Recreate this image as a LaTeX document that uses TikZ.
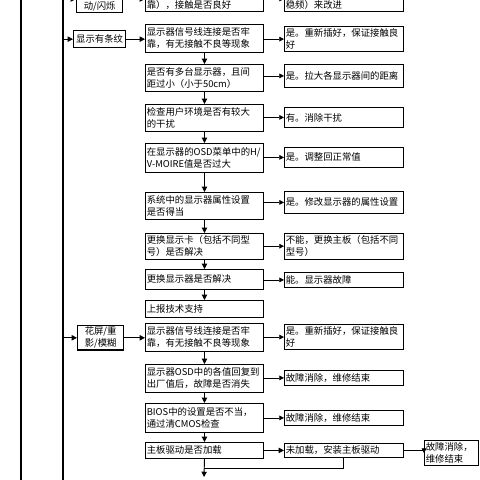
\documentclass[tikz,border=0pt]{standalone}
\usepackage{fontspec}
\usepackage{tikz}
\usetikzlibrary{arrows.meta}
\newfontfamily\cjk{Noto Sans CJK SC}
\newcommand{\xQ}{145}
\newcommand{\xA}{284}
\newcommand{\xM}{204}
\tikzset{
    qbox/.style={draw, line width=0.7pt, anchor=north west, inner xsep=1.2pt, inner ysep=2pt,
        text width=3.46cm, align=left, font=\cjk\fontsize{8}{10.2}\selectfont},
    abox/.style={qbox, text width=3.48cm},
    cbox/.style={draw, line width=1.1pt, anchor=north west, align=center, inner sep=1.2pt,
        font=\cjk\fontsize{8}{10.2}\selectfont},
    flow/.style={line width=0.8pt, -{Triangle[length=4.5pt,width=4.5pt]}},
    yes/.style={line width=0.5pt, -{Triangle[length=4pt,width=4pt]}},
    bus/.style={line width=1.6pt}
}
\begin{document}
\begin{tikzpicture}[x=0.03cm,y=-0.03cm]
    \useasboundingbox (0,0) rectangle (480,480);
    % === === === Buses
    \coordinate (busLt) at (21,-10);
    \coordinate (busLb) at (21,490);
    \coordinate (busRt) at (63,-10);
    \coordinate (busRb) at (63,490);
    \draw[bus] (busLt) -- (busLb);
    \draw[bus] (busRt) -- (busRb);
    % === === === Row cut at the top
    \coordinate (row0) at (0,-1);
    \node[cbox, anchor=south west, minimum width=1.38cm, text height=20pt] (c0) at (76,13) {动/闪烁};
    \node[qbox, anchor=south west, text height=20pt] (m0) at (\xQ,12) {靠），接触是否良好};
    \node[abox, anchor=south west, text height=20pt] (a0) at (\xA,12) {稳频）来改进};
    \draw[flow] (row0 -| busRt) -- (row0 -| c0.west);
    \draw[flow] (row0 -| c0.east) -- (row0 -| m0.west);
    \draw[yes] (row0 -| m0.east) -- (row0 -| a0.west);
    % === === === Stripes
    \node[cbox, minimum width=1.56cm, minimum height=0.51cm] (c1) at (73,30) {显示有条纹};
    % --- --- --- questions
    \node[qbox, minimum height=0.84cm] (m1) at (\xQ,24) {显示器信号线连接是否牢\\靠，有无接触不良等现象};
    \node[qbox, minimum height=0.81cm] (m2) at (\xQ,64) {是否有多台显示器，且间\\距过小（小于50cm）};
    \node[qbox, minimum height=0.81cm] (m3) at (\xQ,104) {检查用户环境是否有较大\\的干扰};
    \node[qbox, minimum height=0.87cm] (m4) at (\xQ,143) {在显示器的OSD菜单中的H/\\V-MOIRE值是否过大};
    \node[qbox, minimum height=0.81cm] (m5) at (\xQ,192) {系统中的显示器属性设置\\是否得当};
    \node[qbox, minimum height=0.75cm] (m6) at (\xQ,233) {更换显示卡（包括不同型\\号）是否解决};
    \node[qbox, minimum height=0.6cm] (m7) at (\xQ,269) {更换显示器是否解决};
    \node[qbox, minimum height=0.51cm] (m8) at (\xQ,300) {上报技术支持};
    % --- --- --- answers
    \node[abox, minimum height=0.72cm] (a1) at (\xA,26) {是。重新插好，保证接触良\\好};
    \node[abox, minimum height=0.69cm] (a2) at (\xA,64) {是。拉大各显示器间的距离};
    \node[abox, minimum height=0.6cm] (a3) at (\xA,107) {有。消除干扰};
    \node[abox, minimum height=0.6cm] (a4) at (\xA,147) {是。调整回正常值};
    \node[abox, minimum height=0.66cm] (a5) at (\xA,191) {是。修改显示器的属性设置};
    \node[abox, minimum height=0.72cm] (a6) at (\xA,233) {不能，更换主板（包括不同\\型号）};
    \node[abox, minimum height=0.45cm] (a7) at (\xA,272) {能。显示器故障};
    % --- --- --- arrows
    \draw[flow] (c1.west -| busRt) -- (c1.west);
    \draw[flow] (c1.east) -- (c1.east -| m1.west);
    \foreach \i/\j in {1/2,2/3,3/4,4/5,5/6,6/7,7/8} {
        \draw[flow] (m\i.south) -- (m\j.north);
    }
    \foreach \i in {1,...,7} {
        \draw[yes] (a\i.west -| m\i.east) -- (a\i.west);
    }
    % === === === Blurred screen
    \node[cbox, minimum width=1.38cm, minimum height=0.69cm] (c2) at (77,325) {花屏/重\\影/模糊};
    % --- --- --- questions
    \node[qbox, minimum height=0.84cm] (m9) at (\xQ,323) {显示器信号线连接是否牢\\靠，有无接触不良等现象};
    \node[qbox, minimum height=0.84cm] (m10) at (\xQ,364) {显示器OSD中的各值回复到\\出厂值后，故障是否消失};
    \node[qbox, minimum height=0.87cm] (m11) at (\xQ,403) {BIOS中的设置是否不当，\\通过清CMOS检查};
    \node[qbox, minimum height=0.48cm] (m12) at (\xQ,442) {主板驱动是否加载};
    % --- --- --- answers
    \node[abox, minimum height=0.72cm] (a9) at (\xA,324) {是。重新插好，保证接触良\\好};
    \node[abox, minimum height=0.45cm] (a10) at (\xA,370) {故障消除，维修结束};
    \node[abox, minimum height=0.45cm] (a11) at (\xA,410) {故障消除，维修结束};
    \node[abox, minimum height=0.42cm] (a12) at (\xA,443) {未加载，安装主板驱动};
    \node[qbox, text width=1.55cm, minimum height=0.66cm] (f12) at (424,440) {故障消除，\\维修结束};
    % --- --- --- arrows
    \draw[flow] (c2.west -| busRt) -- (c2.west);
    \draw[flow] (c2.east) -- (c2.east -| m9.west);
    \foreach \i/\j in {9/10,10/11,11/12} {
        \draw[flow] (m\i.south) -- (m\j.north);
    }
    \foreach \i in {9,10,11} {
        \draw[yes] (a\i.west -| m\i.east) -- (a\i.west);
    }
    \draw[flow] (a12.west -| m12.east) -- (a12.west);
    \draw[yes] (f12.west |- a12.east) -- (f12.west);
    \draw[yes, -] (a12.east) -- (f12.west |- a12.east);
    % --- --- --- back to the main line
    \coordinate (join) at (\xM,468);
    \coordinate (down) at (\xM,477);
    \draw[line width=0.8pt] (a12.south) |- (join);
    \draw[flow] (m12.south) -- (down);
\end{tikzpicture}
\end{document}
